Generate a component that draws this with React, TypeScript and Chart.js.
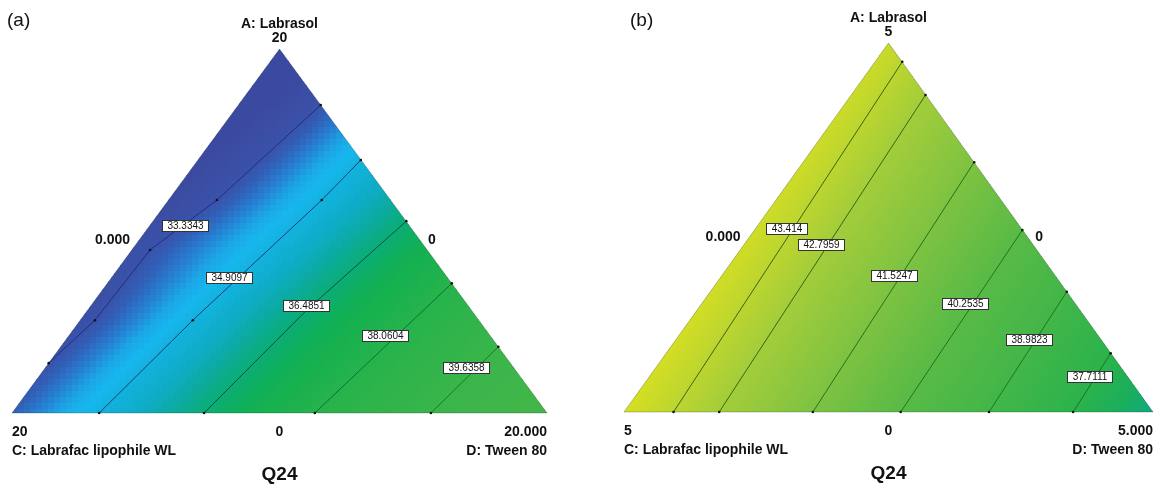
import React, { useEffect, useRef } from "react";
import { Chart, registerables } from "chart.js";
Chart.register(...registerables);

type Pt = [number, number];

// ---------- shared text ----------
const componentNames = ["A: Labrasol", "C: Labrafac lipophile WL", "D: Tween 80"];
const responseName = "Q24";

// ---------- panel (a) ----------
const titleA = "(a)";
const levelsA = [33.3343, 34.9097, 36.4851, 38.0604, 39.6358];
// contour paths in triangle data space (x: along C->D base, y: height toward A)
const contourA1: Pt[] = [[0.577, 0.846], [0.383, 0.585], [0.258, 0.448], [0.155, 0.255], [0.0686, 0.137]];
const contourA2: Pt[] = [[0.652, 0.695], [0.579, 0.585], [0.338, 0.255], [0.163, 0]];
const contourA3: Pt[] = [[0.737, 0.527], [0.551, 0.283], [0.359, 0]];
const contourA4: Pt[] = [[0.822, 0.356], [0.566, 0]];
const contourA5: Pt[] = [[0.909, 0.182], [0.783, 0]];
const labelAtA: Pt[] = [[0.325, 0.514], [0.406, 0.371], [0.550, 0.294], [0.699, 0.212], [0.849, 0.124]];
const tickTextA = ["20", "0.000", "0", "20", "0", "20.000"];
const colorValA = [32.5, 33.33, 33.6, 33.95, 34.3, 34.6, 34.91, 35.5, 36.0, 36.49, 37.1, 38.06, 39.64, 41.0];
const colorHexA = ["#3b4aa0", "#3a52a9", "#3160b8", "#2680d2", "#1ca6e6", "#17b7ee", "#13b2df", "#0eacc6", "#0cab9e", "#0bad74", "#12b052", "#26b34b", "#3ab54a", "#42b649"];
const lineColorA = ["#1f2d80", "#1c3d76", "#0c4e52", "#0c6f36", "#137a30"];

// ---------- panel (b) ----------
const titleB = "(b)";
const levelsB = [43.414, 42.7959, 41.5247, 40.2535, 38.9823, 37.7111];
const contourB1: Pt[] = [[0.526, 0.949], [0.0936, 0]];
const contourB2: Pt[] = [[0.570, 0.859], [0.180, 0]];
const contourB3: Pt[] = [[0.662, 0.677], [0.357, 0]];
const contourB4: Pt[] = [[0.753, 0.493], [0.523, 0]];
const contourB5: Pt[] = [[0.837, 0.326], [0.690, 0]];
const contourB6: Pt[] = [[0.920, 0.159], [0.849, 0]];
const labelAtB: Pt[] = [[0.308, 0.496], [0.374, 0.453], [0.512, 0.369], [0.646, 0.293], [0.766, 0.195], [0.881, 0.095]];
const tickTextB = ["5", "0.000", "0", "5", "0", "5.000"];
const colorValB = [36.4, 37.0, 37.71, 38.98, 40.25, 41.52, 42.8, 43.41, 44.1, 44.6];
const colorHexB = ["#0fa88a", "#1aae5e", "#2bb34b", "#42b649", "#58ba46", "#7dc242", "#a3cd3a", "#bbd530", "#d6df22", "#e2e31b"];
const lineColorB = ["#3a6418", "#33661a", "#26701e", "#207420", "#1c7422", "#1a7424"];

const APEX_X = 0.5;
const SIDE_LABEL_Y = 0.475;
const FONT = "'Liberation Sans', Arial, Helvetica, sans-serif";

function hexToRgb(h: string): number[] {
  const n = parseInt(h.slice(1), 16);
  return [(n >> 16) & 255, (n >> 8) & 255, n & 255];
}

function colorAt(v: number, vals: number[], hexes: string[]): string {
  if (v <= vals[0]) return hexes[0];
  if (v >= vals[vals.length - 1]) return hexes[hexes.length - 1];
  let i = 0;
  while (i < vals.length - 2 && v > vals[i + 1]) i++;
  const t = (v - vals[i]) / (vals[i + 1] - vals[i]);
  const a = hexToRgb(hexes[i]);
  const b = hexToRgb(hexes[i + 1]);
  const c = a.map((av, k) => Math.round(av + (b[k] - av) * t));
  return `rgb(${c[0]},${c[1]},${c[2]})`;
}

function xAt(path: Pt[], y: number): number {
  const n = path.length;
  let i = 0;
  if (y >= path[0][1]) i = 0;
  else if (y <= path[n - 1][1]) i = n - 2;
  else {
    for (i = 0; i < n - 2; i++) if (y <= path[i][1] && y >= path[i + 1][1]) break;
  }
  const [x0, y0] = path[i];
  const [x1, y1] = path[i + 1];
  return x0 + ((x1 - x0) * (y - y0)) / (y1 - y0);
}

function fieldAt(px: number, py: number, paths: Pt[][], levels: number[]): number {
  const xs = paths.map((p) => xAt(p, py));
  const n = xs.length;
  let i = 0;
  if (px <= xs[0]) i = 0;
  else if (px >= xs[n - 1]) i = n - 2;
  else {
    for (i = 0; i < n - 2; i++) if (px >= xs[i] && px <= xs[i + 1]) break;
  }
  const t = (px - xs[i]) / (xs[i + 1] - xs[i]);
  return levels[i] + t * (levels[i + 1] - levels[i]);
}

type PanelCfg = {
  title: string;
  titleX: number;
  levels: number[];
  paths: Pt[][];
  labelAt: Pt[];
  ticks: string[];
  colorVals: number[];
  colorHex: string[];
  lineColors: string[];
  cell: number;
  padding: { left: number; right: number; top: number; bottom: number };
  width: number;
  left: number;
};

const panels: PanelCfg[] = [
  {
    title: titleA,
    titleX: 7,
    levels: levelsA,
    paths: [contourA1, contourA2, contourA3, contourA4, contourA5],
    labelAt: labelAtA,
    ticks: tickTextA,
    colorVals: colorValA,
    colorHex: colorHexA,
    lineColors: lineColorA,
    cell: 6,
    padding: { left: 12, right: 31, top: 49, bottom: 74 },
    width: 578,
    left: 0,
  },
  {
    title: titleB,
    titleX: 52,
    levels: levelsB,
    paths: [contourB1, contourB2, contourB3, contourB4, contourB5, contourB6],
    labelAt: labelAtB,
    ticks: tickTextB,
    colorVals: colorValB,
    colorHex: colorHexB,
    lineColors: lineColorB,
    cell: 3,
    padding: { left: 46, right: 4, top: 43, bottom: 75 },
    width: 579,
    left: 578,
  },
];

function Panel({ cfg }: { cfg: PanelCfg }) {
  const ref = useRef<HTMLCanvasElement>(null);
  useEffect(() => {
    const canvas = ref.current!;
    const fieldPlugin = {
      id: "ternaryField",
      beforeDatasetsDraw(chart: any) {
        const { ctx, chartArea } = chart;
        const x = chart.scales.x;
        const y = chart.scales.y;
        ctx.save();
        ctx.beginPath();
        ctx.moveTo(x.getPixelForValue(0), y.getPixelForValue(0));
        ctx.lineTo(x.getPixelForValue(1), y.getPixelForValue(0));
        ctx.lineTo(x.getPixelForValue(APEX_X), y.getPixelForValue(1));
        ctx.closePath();
        ctx.clip();
        const c = cfg.cell;
        for (let py = chartArea.top - c; py < chartArea.bottom + c; py += c) {
          for (let px = chartArea.left - c; px < chartArea.right + c; px += c) {
            const dx = x.getValueForPixel(px + c / 2);
            const dy = y.getValueForPixel(py + c / 2);
            const v = fieldAt(dx, dy, cfg.paths, cfg.levels);
            ctx.fillStyle = colorAt(v, cfg.colorVals, cfg.colorHex);
            ctx.fillRect(px, py, c + 0.6, c + 0.6);
          }
        }
        ctx.restore();
      },
    };
    const labelPlugin = {
      id: "ternaryLabels",
      afterDatasetsDraw(chart: any) {
        const { ctx } = chart;
        const x = chart.scales.x;
        const y = chart.scales.y;
        ctx.save();
        ctx.font = `10px ${FONT}`;
        ctx.textAlign = "center";
        ctx.textBaseline = "middle";
        cfg.levels.forEach((lv, i) => {
          const [lx, ly] = cfg.labelAt[i];
          const cx = x.getPixelForValue(lx);
          const cy = y.getPixelForValue(ly);
          const txt = String(lv);
          const w = Math.round(ctx.measureText(txt).width + 11);
          const h = 12;
          const bx = Math.round(cx - w / 2);
          const by = Math.round(cy - h / 2);
          ctx.fillStyle = "#ffffff";
          ctx.fillRect(bx, by, w, h);
          ctx.strokeStyle = "#333";
          ctx.lineWidth = 1;
          ctx.strokeRect(bx + 0.5, by + 0.5, w - 1, h - 1);
          ctx.fillStyle = "#111";
          ctx.fillText(txt, bx + w / 2, by + h / 2 + 0.5);
        });
        ctx.restore();
      },
      afterDraw(chart: any) {
        const { ctx } = chart;
        const x = chart.scales.x;
        const y = chart.scales.y;
        const X = (v: number) => x.getPixelForValue(v);
        const Y = (v: number) => y.getPixelForValue(v);
        ctx.save();
        ctx.fillStyle = "#111";
        ctx.textBaseline = "middle";
        const put = (t: string, px: number, py: number, align: string, font: string) => {
          ctx.font = font;
          ctx.textAlign = align;
          ctx.fillText(t, px, py);
        };
        const small = `bold 14px ${FONT}`;
        put(cfg.title, cfg.titleX, 21, "left", `19px ${FONT}`);
        const ax = X(APEX_X);
        const ay = Y(1);
        put(componentNames[0], ax, ay - 25, "center", small);
        put(cfg.ticks[0], ax, ay - 11, "center", small);
        const sy = Y(SIDE_LABEL_Y);
        put(cfg.ticks[1], X(SIDE_LABEL_Y * APEX_X) - 9, sy, "right", small);
        put(cfg.ticks[2], X(1 - SIDE_LABEL_Y * (1 - APEX_X)) + 8, sy, "left", small);
        const by = Y(0);
        put(cfg.ticks[3], X(0), by + 19, "left", small);
        put(cfg.ticks[4], X(0.5), by + 19, "center", small);
        put(cfg.ticks[5], X(1), by + 19, "right", small);
        put(componentNames[1], X(0), by + 38, "left", small);
        put(componentNames[2], X(1), by + 38, "right", small);
        put(responseName, X(0.5), by + 62, "center", `bold 19px ${FONT}`);
        ctx.restore();
      },
    };

    const datasets: any[] = cfg.paths.map((p, i) => ({
      label: String(cfg.levels[i]),
      data: p.map(([px, py]) => ({ x: px, y: py })),
      showLine: true,
      borderColor: cfg.lineColors[i],
      borderWidth: 1,
      pointRadius: 1.3,
      pointBackgroundColor: "#111",
      pointBorderWidth: 0,
      clip: 4,
    }));
    datasets.push({
      label: "outline",
      data: [
        { x: 0, y: 0 },
        { x: 1, y: 0 },
        { x: APEX_X, y: 1 },
        { x: 0, y: 0 },
      ],
      showLine: true,
      borderColor: "rgba(20,40,30,0.25)",
      borderWidth: 1,
      pointRadius: 0,
      clip: 4,
    });

    const chart = new Chart(canvas, {
      type: "scatter",
      data: { datasets },
      plugins: [fieldPlugin, labelPlugin],
      options: {
        animation: false,
        responsive: false,
        devicePixelRatio: 1,
        layout: { padding: cfg.padding },
        plugins: { legend: { display: false }, tooltip: { enabled: false } },
        events: [],
        scales: {
          x: { type: "linear", min: 0, max: 1, display: false },
          y: { type: "linear", min: 0, max: 1, display: false },
        },
      } as any,
    });
    return () => chart.destroy();
  }, [cfg]);
  return (
    <canvas
      ref={ref}
      width={cfg.width}
      height={487}
      style={{ position: "absolute", left: cfg.left, top: 0, width: cfg.width, height: 487 }}
    />
  );
}

export default function App() {
  return (
    <div style={{ position: "fixed", left: 0, top: 0, width: 1157, height: 487, background: "#fff" }}>
      {panels.map((p, i) => (
        <Panel key={i} cfg={p} />
      ))}
    </div>
  );
}
